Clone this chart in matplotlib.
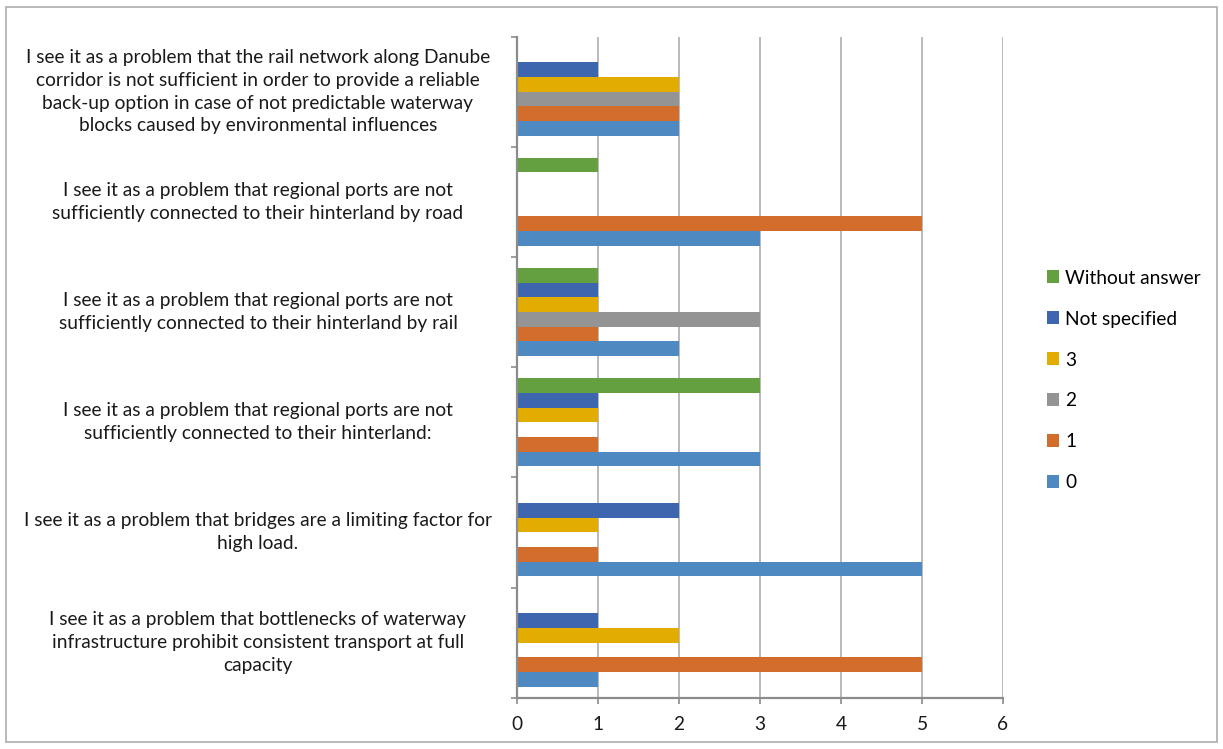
import matplotlib

matplotlib.use('Agg')
import matplotlib.pyplot as plt
import numpy as np
from matplotlib.patches import Rectangle

# --- data (categories bottom to top, as drawn) ---
categories = [
    'I see it as a problem that bottlenecks of waterway\ninfrastructure prohibit consistent transport at full\ncapacity',
    'I see it as a problem that bridges are a limiting factor for\nhigh load.',
    'I see it as a problem that regional ports are not\nsufficiently connected to their hinterland:',
    'I see it as a problem that regional ports are not\nsufficiently connected to their hinterland by rail',
    'I see it as a problem that regional ports are not\nsufficiently connected to their hinterland by road',
    'I see it as a problem that the rail network along Danube\ncorridor is not sufficient in order to provide a reliable\n'
    'back-up option in case of not predictable waterway\nblocks caused by environmental influences',
]
series_names = ['0', '1', '2', '3', 'Not specified', 'Without answer']
values_0 = [1, 5, 3, 2, 3, 2]
values_1 = [5, 1, 1, 1, 5, 2]
values_2 = [0, 0, 0, 3, 0, 2]
values_3 = [2, 1, 1, 1, 0, 2]
values_not_specified = [1, 2, 1, 1, 0, 1]
values_without_answer = [0, 0, 3, 1, 1, 0]
x_ticks = [0, 1, 2, 3, 4, 5, 6]

series_values = [values_0, values_1, values_2, values_3,
                 values_not_specified, values_without_answer]
colors = ['#4E89C1', '#D36D2B', '#949494', '#E2AC00', '#3D66AE', '#64A03F']

W, H = 1223, 749
plt.rcParams['font.family'] = ['Lato', 'DejaVu Sans']
fs = 13.8

fig = plt.figure(figsize=(W / 100, H / 100), dpi=100)
# plot area in pixels: x 517..1003, y 36.5..697.7
ax = fig.add_axes([517 / W, 1 - 697.7 / H, (1003 - 517) / W, (697.7 - 36.5) / H])

n_cat = len(categories)
n_ser = len(series_values)
bar_h = 0.8 / n_ser
y = np.arange(n_cat)
for j, (vals, name, c) in enumerate(zip(series_values, series_names, colors)):
    ax.barh(y + (j - (n_ser - 1) / 2) * bar_h, vals, height=bar_h, color=c,
            edgecolor='none', label=name, zorder=3)

ax.set_xlim(0, 6)
ax.set_ylim(-0.5, n_cat - 0.5)
ax.set_xticks(x_ticks)
ax.set_xticklabels([str(t) for t in x_ticks], fontsize=fs, color='#1a1a1a')
ax.tick_params(axis='x', length=4, width=1.2, color='#8C8C8C', pad=9)

# category boundaries as ticks, labels drawn separately
ax.set_yticks(np.arange(-0.5, n_cat, 1.0))
ax.set_yticklabels([])
ax.tick_params(axis='y', length=4, width=1.2, color='#8C8C8C')
for i, lab in enumerate(categories):
    ax.text(-0.533, i, lab, transform=ax.get_yaxis_transform(), ha='center', va='center',
            multialignment='center', fontsize=fs, linespacing=1.42, color='#1a1a1a')

ax.grid(axis='x', color='#B4B4B4', linewidth=1.3, zorder=0)
for s in ['top', 'right']:
    ax.spines[s].set_visible(False)
for s in ['left', 'bottom']:
    ax.spines[s].set_color('#8C8C8C')
    ax.spines[s].set_linewidth(1.6)
    ax.spines[s].set_zorder(4)

handles, labels = ax.get_legend_handles_labels()
fig.legend(handles[::-1], labels[::-1], loc='center left',
           bbox_to_anchor=(1047 / W, 1 - 380.5 / H), frameon=False, fontsize=fs,
           handlelength=0.65, handleheight=0.65, handletextpad=0.3,
           labelspacing=1.25, borderpad=0, borderaxespad=0)

# outer chart frame
fig.patches.append(Rectangle((6 / W, 1 - 742 / H), (1217 - 6) / W, (742 - 7) / H,
                             transform=fig.transFigure, fill=False,
                             edgecolor='#ADADAD', linewidth=1.2))

fig.savefig('out.png', dpi=100)
